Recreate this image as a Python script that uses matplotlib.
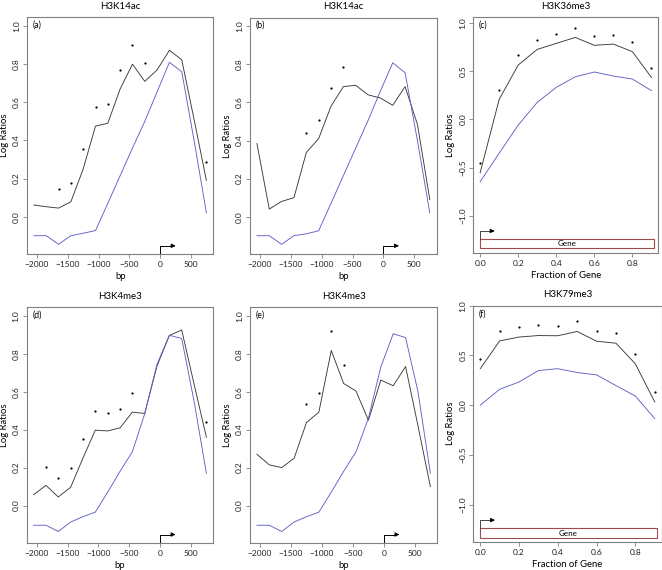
import matplotlib
matplotlib.use("Agg")
import matplotlib.pyplot as plt

plt.rcParams['font.family'] = ['Lato', 'DejaVu Sans']

# bin centres
bp = [-2050, -1850, -1650, -1450, -1250, -1050, -850, -650, -450, -250, -50, 150, 350, 550, 750]
frac = [0.0, 0.1, 0.2, 0.3, 0.4, 0.5, 0.6, 0.7, 0.8, 0.9]

titles = ["H3K14ac", "H3K14ac", "H3K36me3", "H3K4me3", "H3K4me3", "H3K79me3"]
tags = ["(a)", "(b)", "(c)", "(d)", "(e)", "(f)"]

# (a)
a_black = [0.061, 0.052, 0.045, 0.078, 0.25, 0.475, 0.49, 0.67, 0.80, 0.71, 0.77, 0.873, 0.823, 0.51, 0.19]
a_blue = [-0.10, -0.10, -0.145, -0.10, -0.087, -0.073, 0.07, 0.215, 0.36, 0.50, 0.655, 0.81, 0.76, 0.40, 0.02]
a_px = [-1650, -1450, -1250, -1050, -850, -650, -450, -250, 750]
a_py = [0.144, 0.176, 0.353, 0.574, 0.59, 0.77, 0.903, 0.807, 0.287]

# (b)
b_black = [0.384, 0.04, 0.08, 0.10, 0.337, 0.41, 0.58, 0.683, 0.69, 0.64, 0.623, 0.585, 0.683, 0.485, 0.09]
b_blue = [-0.10, -0.10, -0.145, -0.10, -0.09, -0.074, 0.07, 0.215, 0.36, 0.505, 0.66, 0.808, 0.756, 0.40, 0.02]
b_px = [-1250, -1050, -850, -650]
b_py = [0.438, 0.509, 0.678, 0.784]

# (c)
c_black = [-0.552, 0.207, 0.562, 0.724, 0.786, 0.848, 0.766, 0.779, 0.70, 0.434]
c_blue = [-0.645, -0.35, -0.059, 0.176, 0.331, 0.441, 0.49, 0.448, 0.417, 0.297]
c_py = [-0.448, 0.303, 0.665, 0.82, 0.886, 0.948, 0.866, 0.876, 0.80, 0.531]

# (d)
d_black = [0.057, 0.106, 0.045, 0.096, 0.25, 0.397, 0.393, 0.409, 0.492, 0.485, 0.736, 0.896, 0.925, 0.64, 0.36]
d_blue = [-0.104, -0.104, -0.137, -0.087, -0.059, -0.035, 0.07, 0.18, 0.283, 0.483, 0.744, 0.897, 0.88, 0.55, 0.17]
d_px = [-1850, -1650, -1450, -1250, -1050, -850, -650, -450, 750]
d_py = [0.205, 0.144, 0.197, 0.351, 0.496, 0.49, 0.508, 0.591, 0.44]

# (e)
e_black = [0.27, 0.214, 0.20, 0.249, 0.437, 0.492, 0.817, 0.643, 0.603, 0.449, 0.661, 0.631, 0.732, 0.42, 0.10]
e_blue = [-0.104, -0.104, -0.137, -0.087, -0.059, -0.035, 0.07, 0.18, 0.283, 0.46, 0.73, 0.905, 0.885, 0.60, 0.17]
e_px = [-1250, -1050, -850, -650]
e_py = [0.536, 0.591, 0.918, 0.743]

# (f)
f_black = [0.367, 0.646, 0.685, 0.70, 0.698, 0.741, 0.643, 0.623, 0.416, 0.033]
f_blue = [0.0, 0.16, 0.233, 0.348, 0.367, 0.328, 0.305, 0.197, 0.092, -0.134]
f_py = [0.462, 0.741, 0.784, 0.803, 0.793, 0.843, 0.744, 0.721, 0.511, 0.134]

black = "#3a3a3a"
blue = "#6060c8"
frame = "#808080"

W, H = 662.0, 570.0
boxes = [(27, 17.3, 213.3, 254), (250, 17.5, 436.7, 254), (473.3, 17.3, 658.3, 253.3),
         (26.7, 307, 213.3, 542.7), (250, 307, 437.3, 542.7), (473.3, 305.7, 661.7, 541.7)]

fig = plt.figure(figsize=(6.62, 5.70), dpi=100)
axs = []
for (l, t, r, b) in boxes:
    axs.append(fig.add_axes([l / W, 1 - b / H, (r - l) / W, (b - t) / H]))

def style(ax, title, tag, xlabel):
    for s in ax.spines.values():
        s.set_color(frame)
        s.set_linewidth(0.8)
    ax.tick_params(colors=frame, labelcolor="#222222", labelsize=6, length=3, width=0.6, pad=2)
    for lab in ax.get_yticklabels():
        lab.set_rotation(90)
        lab.set_va("center")
    ax.set_title(title, fontsize=7, pad=6)
    ax.set_xlabel(xlabel, fontsize=6.8, labelpad=3)
    ax.set_ylabel("Log Ratios", fontsize=6.8, labelpad=3)
    ax.text(0.03, 0.985, tag, transform=ax.transAxes, fontsize=6.2, va="top", ha="left")

def bp_panel(ax, blk, blu, px, py, title, tag):
    ax.plot(bp, blk, color=black, lw=0.65)
    ax.plot(bp, blu, color=blue, lw=0.65)
    ax.plot(px, py, "o", color="black", ms=1.6, mec="none")
    ax.set_xlim(-2162, 862)
    ax.set_ylim(-0.196, 1.046)
    ax.set_xticks([-2000, -1500, -1000, -500, 0, 500])
    ax.set_yticks([0.0, 0.2, 0.4, 0.6, 0.8, 1.0])
    ax.set_yticklabels(["0.0", "0.2", "0.4", "0.6", "0.8", "1.0"])
    # TSS arrow
    ax.plot([0, 0, 180], [-0.196, -0.153, -0.153], color="black", lw=0.7, clip_on=False)
    ax.annotate("", xy=(250, -0.153), xytext=(170, -0.153),
                arrowprops=dict(arrowstyle="-|>", color="black", lw=0.7, mutation_scale=6))
    style(ax, title, tag, "bp")

def gene_panel(ax, blk, blu, py, title, tag, ylim):
    ax.plot(frac, blk, color=black, lw=0.65)
    ax.plot(frac, blu, color=blue, lw=0.65)
    ax.plot(frac, py, "o", color="black", ms=1.6, mec="none")
    ax.set_xlim(-0.036, 0.936)
    ax.set_ylim(*ylim)
    ax.set_xticks([0.0, 0.2, 0.4, 0.6, 0.8])
    ax.set_yticks([-1.0, -0.5, 0.0, 0.5, 1.0])
    ax.set_yticklabels(["\u22121.0", "\u22120.5", "0.0", "0.5", "1.0"])
    ax.add_patch(plt.Rectangle((0.0, -1.334), 0.911, 0.096, fill=False, ec="#a24a50", lw=0.8))
    ax.text(0.455, -1.286, "Gene", fontsize=5.8, ha="center", va="center")
    ax.plot([0, 0, 0.06], [-1.238, -1.155, -1.155], color="#444444", lw=0.7)
    ax.annotate("", xy=(0.076, -1.155), xytext=(0.05, -1.155),
                arrowprops=dict(arrowstyle="-|>", color="black", lw=0.7, mutation_scale=6))
    style(ax, title, tag, "Fraction of Gene")

bp_panel(axs[0], a_black, a_blue, a_px, a_py, titles[0], tags[0])
bp_panel(axs[1], b_black, b_blue, b_px, b_py, titles[1], tags[1])
gene_panel(axs[2], c_black, c_blue, c_py, titles[2], tags[2], (-1.386, 1.056))
bp_panel(axs[3], d_black, d_blue, d_px, d_py, titles[3], tags[3])
bp_panel(axs[4], e_black, e_blue, e_px, e_py, titles[4], tags[4])
gene_panel(axs[5], f_black, f_blue, f_py, titles[5], tags[5], (-1.372, 0.954))

fig.savefig("out.png", dpi=100)
